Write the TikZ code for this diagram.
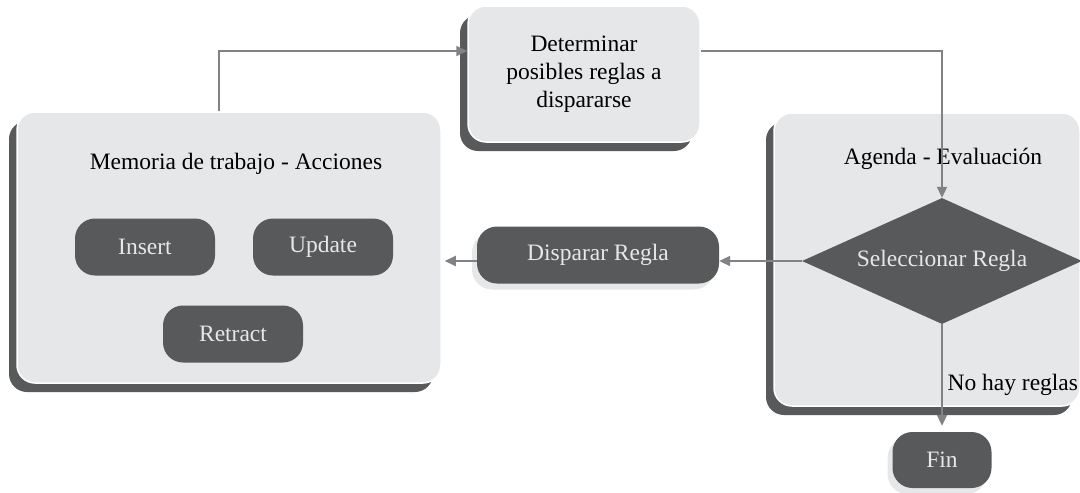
\documentclass[tikz,border=0pt]{standalone}
\usepackage{fontspec}
\setmainfont{Liberation Serif}
\usetikzlibrary{shapes.geometric,shadows,arrows.meta}

\definecolor{dark}{HTML}{58595B}
\definecolor{light}{HTML}{E6E7E8}
\definecolor{wire}{HTML}{808285}

\tikzset{
  panel/.style={rectangle,rounded corners=18pt,fill=light,draw=white,line width=1.5pt,
    drop shadow={shadow xshift=-8pt,shadow yshift=-9pt,fill=dark,opacity=1}},
  act/.style={rectangle,rounded corners=20pt,fill=dark,text=light,minimum height=57pt},
  lifted/.style={drop shadow={shadow xshift=-5pt,shadow yshift=-6pt,fill=light,opacity=1}},
  arr/.style={draw=wire,line width=2pt,-{Triangle[length=11pt,width=10pt]}},
}

\begin{document}
\begin{tikzpicture}[x=1pt,y=-1pt,font=\fontsize{23.5}{28}\selectfont]
\useasboundingbox (0,0) rectangle (1080,493);
% containers
\node[panel,minimum width=424pt,minimum height=271pt] (mem) at (229,247.5) {};
\node[panel,minimum width=232pt,minimum height=136pt,align=center] (det) at (584,74)
  {Determinar\\posibles reglas a\\dispararse};
\node[panel,minimum width=306pt,minimum height=293pt] (age) at (927,259.5) {};
\node (memtitle) at (236,164) {Memoria de trabajo - Acciones};
\node (agetitle) at (943,159) {Agenda - Evaluación};
% actions
\foreach \n/\x/\y/\t in {ins/145/247/Insert, upd/323/247/Update, ret/233/334/Retract}
  \node[act,minimum width=140pt] (\n) at (\x,\y) {\t};
\node[act,lifted,minimum width=242pt] (disp) at (598,255) {Disparar Regla};
\node[act,lifted,minimum width=99pt,minimum height=56pt] (fin) at (942,460) {Fin};
\node[diamond,aspect=2.23,fill=dark,text=light,inner sep=0pt,
  minimum width=280pt,minimum height=126pt] (sel) at (942,261) {Seleccionar Regla};
% flow
\coordinate (top) at (0,51);
\draw[arr] ([xshift=-10pt]mem.north) |- (det.west |- top);
\draw[arr] (det.east |- top) -| (sel.north);
\draw[arr] (sel.west) -- (sel.west -| disp.east);
\draw[arr] (sel.west -| disp.west) -- ([xshift=3pt]sel.west -| mem.east);
\draw[arr,shorten >=6pt] (sel.south) -- (fin.north);
\node[anchor=west] (nolbl) at (944,385) {No hay reglas};
\end{tikzpicture}
\end{document}
